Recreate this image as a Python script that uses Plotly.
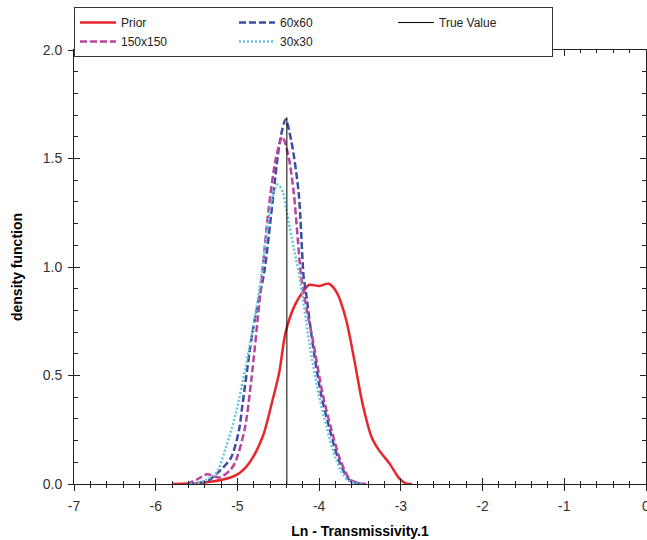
import plotly.graph_objects as go

# Ln - Transmissivity.1 density curves
prior_x = [-5.8, -5.6, -5.43, -5.2, -5.01, -4.86, -4.69, -4.57, -4.49, -4.41, -4.29, -4.2, -4.12,
           -4.0, -3.88, -3.78, -3.67, -3.57, -3.47, -3.36, -3.27, -3.14, -3.02, -2.94, -2.86]
prior_y = [0.0, 0.002, 0.006, 0.018, 0.042, 0.095, 0.219, 0.387, 0.51, 0.70, 0.83, 0.885, 0.918,
           0.912, 0.923, 0.88, 0.757, 0.572, 0.372, 0.218, 0.157, 0.095, 0.026, 0.003, 0.0]

g150_x = [-5.62, -5.5, -5.37, -5.22, -5.1, -5.03, -4.91, -4.83, -4.72, -4.62, -4.53, -4.45, -4.38,
          -4.31, -4.22, -4.15, -4.07, -3.96, -3.86, -3.74, -3.62, -3.5, -3.42]
g150_y = [0.0, 0.02, 0.045, 0.03, 0.06, 0.097, 0.255, 0.48, 0.88, 1.26, 1.5, 1.60, 1.52,
          1.34, 0.957, 0.80, 0.65, 0.42, 0.265, 0.11, 0.02, 0.003, 0.0]

g60_x = [-5.6, -5.51, -5.35, -5.26, -5.08, -4.98, -4.94, -4.82, -4.75, -4.67, -4.57, -4.48, -4.41,
         -4.34, -4.25, -4.19, -4.16, -4.08, -3.98, -3.88, -3.76, -3.63, -3.53, -3.45]
g60_y = [0.0, 0.003, 0.018, 0.045, 0.12, 0.25, 0.36, 0.69, 0.83, 0.98, 1.30, 1.58, 1.68,
         1.58, 1.34, 0.956, 0.88, 0.648, 0.42, 0.265, 0.11, 0.018, 0.004, 0.0]

g30_x = [-5.58, -5.5, -5.39, -5.26, -5.14, -5.02, -4.9, -4.8, -4.71, -4.65, -4.59, -4.54, -4.5,
         -4.44, -4.4, -4.28, -4.24, -4.12, -4.01, -3.91, -3.79, -3.66, -3.55, -3.47]
g30_y = [0.0, 0.003, 0.018, 0.05, 0.17, 0.325, 0.54, 0.74, 0.95, 1.13, 1.29, 1.36, 1.38,
         1.34, 1.26, 1.03, 0.957, 0.65, 0.42, 0.265, 0.11, 0.02, 0.003, 0.0]

true_x = [-4.395, -4.395]
true_y = [0.0, 1.69]

x_ticks = [-7, -6, -5, -4, -3, -2, -1, 0]
x_labels = ['-7', '-6', '-5', '-4', '-3', '-2', '-1', '0']

fig = go.Figure()

fig.add_trace(go.Scatter(x=prior_x, y=prior_y, name='Prior', mode='lines', legendrank=1,
                         line=dict(color='#e8262b', width=2.5, shape='spline', smoothing=0.8)))
fig.add_trace(go.Scatter(x=g60_x, y=g60_y, name='60x60', mode='lines', legendrank=2,
                         line=dict(color='#3c4da3', width=2.5, dash='7px,3px', shape='spline', smoothing=0.8)))
fig.add_trace(go.Scatter(x=g150_x, y=g150_y, name='150x150', mode='lines', legendrank=4,
                         line=dict(color='#b8459c', width=2.5, dash='7px,3px', shape='spline', smoothing=0.8)))
fig.add_trace(go.Scatter(x=g30_x, y=g30_y, name='30x30', mode='lines', legendrank=5,
                         line=dict(color='#63c6dc', width=2.5, dash='2px,2px', shape='spline', smoothing=0.8)))
fig.add_trace(go.Scatter(x=true_x, y=true_y, name='True Value', mode='lines', legendrank=3,
                         line=dict(color='black', width=1)))
# empty trace so the overlay axes (inside / mirrored ticks) get drawn
fig.add_trace(go.Scatter(x=[], y=[], xaxis='x2', yaxis='y2', showlegend=False, hoverinfo='skip'))

axis_font = dict(family='Liberation Sans, Arial', size=14, color='#333')
title_font = dict(family='Liberation Sans, Arial', size=14, color='black')

fig.update_layout(
    width=647, height=540,
    margin=dict(l=74, r=1, t=50, b=56, autoexpand=False),
    plot_bgcolor='white', paper_bgcolor='white',
    font=dict(family='Liberation Sans, Arial'),
    xaxis=dict(range=[-7, 0], tickvals=x_ticks, ticktext=x_labels, ticks='outside', ticklen=6,
               tickcolor='#222', automargin=False, ticklabeloverflow='allow',
               minor=dict(dtick=0.2, tick0=-7, ticks='outside', ticklen=3, tickcolor='#222'),
               showline=True, linecolor='#222', linewidth=1, showgrid=False, zeroline=False,
               tickfont=axis_font, ticklabelstandoff=3,
               title=dict(text='<b>Ln - Transmissivity.1</b>', font=title_font, standoff=13)),
    yaxis=dict(range=[0, 2.0], tick0=0, dtick=0.5, tickformat='.1f', ticks='outside', ticklen=5,
               tickcolor='#222', showline=True, linecolor='#222', linewidth=1, showgrid=False,
               zeroline=False, tickfont=axis_font, ticklabelstandoff=3, automargin=False,
               title=dict(text='<b>density function</b>', font=title_font, standoff=16)),
    xaxis2=dict(overlaying='x', matches='x', anchor='y2', side='bottom', dtick=1, tick0=-7,
                ticks='inside', ticklen=6, tickcolor='#222', mirror='ticks', automargin=False,
                minor=dict(dtick=0.2, ticks='inside', ticklen=3, tickcolor='#222'),
                showline=True, linecolor='#222', showgrid=False, zeroline=False, showticklabels=False),
    yaxis2=dict(overlaying='y', matches='y', anchor='x2', side='left', dtick=0.5, tick0=0,
                ticks='inside', ticklen=6, tickcolor='#222', mirror='ticks', automargin=False,
                minor=dict(dtick=0.1, ticks='inside', ticklen=4, tickcolor='#222'),
                showline=True, linecolor='#222', showgrid=False, zeroline=False, showticklabels=False),
    legend=dict(orientation='h', x=0, xanchor='left', y=1.099, yanchor='top',
                bordercolor='#333', borderwidth=1, bgcolor='white',
                font=dict(family='Liberation Sans, Arial', size=12, color='#222'),
                entrywidth=108, entrywidthmode='pixels', itemwidth=36,
                tracegroupgap=0, traceorder='normal'),
)

# drop the default page margin so the figure sits at the window's top-left corner
fig.write_html("out.html", config={'displayModeBar': False},
               post_script="document.body.style.margin='0';document.body.style.overflow='hidden';")
